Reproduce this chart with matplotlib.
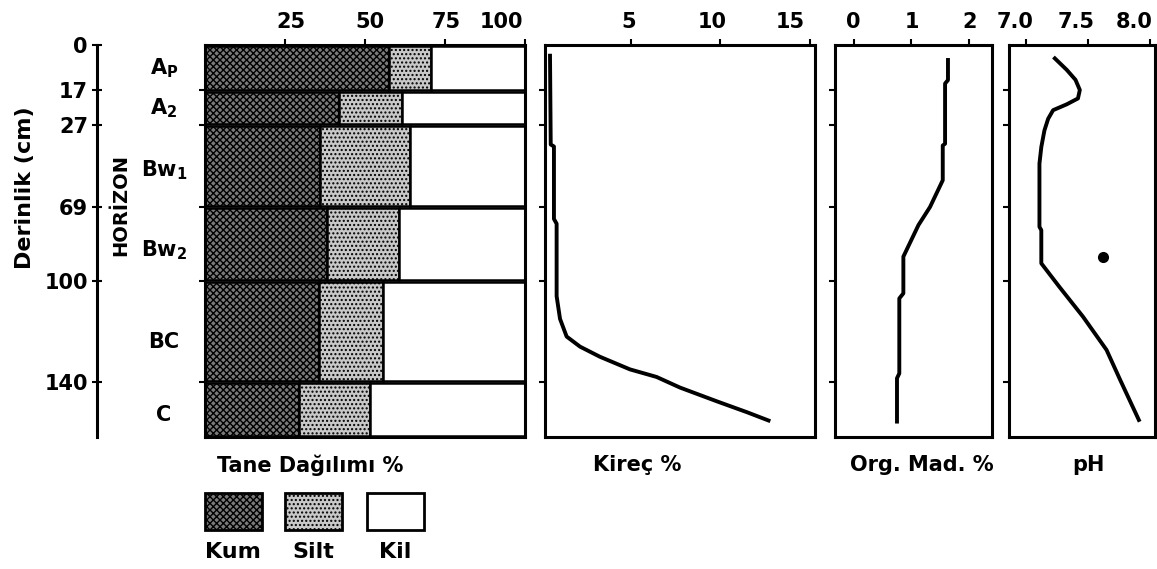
import numpy as np
import matplotlib
matplotlib.use('Agg')
import matplotlib.pyplot as plt
from matplotlib.patches import Rectangle
from matplotlib.transforms import ScaledTranslation

plt.rcParams['font.family'] = ['DejaVu Sans']
plt.rcParams['font.weight'] = 'bold'
plt.rcParams['mathtext.fontset'] = 'dejavusans'
plt.rcParams['mathtext.default'] = 'bf'
plt.rcParams['hatch.linewidth'] = 1.0

# profil verileri
horizons = [r'$A_P$', r'$A_2$', r'$Bw_1$', r'$Bw_2$', 'BC', 'C']
label_depth = [8.5, 22, 50, 87, 124, 152]
top = np.array([0, 17, 27, 69, 100, 140])
bottom = np.array([17, 27, 69, 100, 140, 160])
kum = np.array([57.5, 42, 36, 38, 35.5, 29.5])
silt = np.array([13, 19.5, 28, 22.5, 20, 22])
kil = np.array([29.5, 38.5, 36, 39.5, 44.5, 48.5])
depth_ticks = [0, 17, 27, 69, 100, 140]

kirec_depth = [4, 37, 38, 74, 76, 106, 115, 122, 126, 130, 135, 138, 142, 147, 151, 154]
kirec = [0.48, 0.52, 0.7, 0.7, 0.85, 0.85, 1.04, 1.41, 2.16, 3.27, 4.95, 6.44, 7.74, 9.8, 11.5, 12.7]

om_depth = [5.6, 13.1, 14.4, 36.6, 37.5, 55.3, 69, 76.6, 89.8, 104.9, 106.9, 136.6, 138.5, 154.4]
om = [1.63, 1.63, 1.58, 1.58, 1.54, 1.54, 1.32, 1.12, 0.86, 0.86, 0.79, 0.79, 0.75, 0.75]

ph_depth = [5.0, 9.3, 13.0, 16.8, 19.3, 21.0, 22.7, 25.2, 29.8, 38.3, 46.8, 77.3, 78.7, 92.6,
            102.3, 114.1, 127.3, 139.2, 153.8]
ph = [7.234, 7.33, 7.40, 7.435, 7.42, 7.33, 7.22, 7.18, 7.15, 7.125, 7.11, 7.11, 7.125, 7.125,
      7.27, 7.46, 7.65, 7.76, 7.91]
ph_spot_x = [7.62]
ph_spot_d = [89.8]

# derinlik ekseni cizimde dogrusal degil: horizon sinirlarina gore parca parca olcek
dk = np.array([-100, 0, 17, 27, 69, 100, 140, 160, 400])
yk = np.array([-223, 45, 90.5, 125, 207, 281, 382, 437, 1097])
def fwd(d):
    return np.interp(d, dk, yk)
def inv(y):
    return np.interp(y, yk, dk)

W, H = 1157, 569
fig = plt.figure(figsize=(W / 100, H / 100), dpi=100)

def box(x0, x1, y0=45, y1=437):
    return [x0 / W, 1 - y1 / H, (x1 - x0) / W, (y1 - y0) / H]

lw_frame = 2.2
def style(ax, xt, xl):
    ax.set_yscale('function', functions=(fwd, inv))
    ax.set_ylim(160, 0)
    ax.set_xlim(*xl)
    ax.set_xticks(xt)
    ax.xaxis.tick_top()
    ax.tick_params(axis='x', direction='out', length=4, width=1.5, pad=5, labelsize=15)
    ax.set_yticks(depth_ticks[1:])
    ax.tick_params(axis='y', direction='out', length=4, width=1.5, labelleft=False)
    for s in ax.spines.values():
        s.set_linewidth(lw_frame)

def shift_labels(ax, dxs):
    # ust etiketler orijinalde cizgilerden biraz kaymis
    for t, dx in zip(ax.xaxis.get_major_ticks(), dxs):
        t.label2.set_transform(t.label2.get_transform() +
                               ScaledTranslation(dx / 100, 0, fig.dpi_scale_trans))

# derinlik ekseni
axd = fig.add_axes(box(97, 205))
axd.set_yscale('function', functions=(fwd, inv))
axd.set_ylim(160, 0)
axd.set_xlim(0, 1)
axd.set_xticks([])
axd.set_yticks(depth_ticks)
axd.tick_params(axis='y', direction='inout', length=7, width=1.5, labelsize=15, pad=3)
for k in ['top', 'right', 'bottom']:
    axd.spines[k].set_visible(False)
axd.spines['left'].set_linewidth(lw_frame)
for lab, d in zip(horizons, label_depth):
    axd.text(0.62, d, lab, ha='center', va='center', fontsize=15)
axd.text(0.22, 68, 'HORİZON', rotation=90, ha='center', va='center', fontsize=14)
fig.text(25 / W, 1 - 188 / H, 'Derinlik (cm)', rotation=90, ha='center', va='center', fontsize=16)

# tane dagilimi
ax1 = fig.add_axes(box(205, 525))
style(ax1, [25, 50, 75, 100], (0, 100))
gap = 0.7
mid = (top + bottom) / 2
hgt = bottom - top - gap
ax1.barh(mid, kum, hgt, left=0, color='#7a7a7a', hatch='xxxxx', edgecolor='black', linewidth=1.8)
ax1.barh(mid, silt, hgt, left=kum, color='#c8c8c8', hatch='....', edgecolor='black', linewidth=1.8)
ax1.barh(mid, kil, hgt, left=kum + silt, color='white', edgecolor='black', linewidth=1.8)
shift_labels(ax1, [6, 5, 1, -24])

# kirec
ax2 = fig.add_axes(box(545, 815))
style(ax2, [5, 10, 15], (0.2, 15.3))
ax2.plot(kirec, kirec_depth, color='black', lw=2.8)
shift_labels(ax2, [-2, -8, -19])

# organik madde
ax3 = fig.add_axes(box(835, 992))
style(ax3, [0, 1, 2], (-0.32, 2.39))
ax3.plot(om, om_depth, color='black', lw=2.8)

# pH
ax4 = fig.add_axes(box(1009, 1155))
style(ax4, [7.0, 7.5, 8.0], (6.865, 8.04))
ax4.set_xticklabels(['7.0', '7.5', '8.0'])
ax4.plot(ph, ph_depth, color='black', lw=2.8)
ax4.plot(ph_spot_x, ph_spot_d, 'o', color='black', ms=7)
shift_labels(ax4, [-11, -12, -16])

# eksen basliklari
for txt, x in [('Tane Dağılımı %', 310), ('Kireç %', 637), ('Org. Mad. %', 922), ('pH', 1088)]:
    fig.text(x / W, 1 - 465 / H, txt, ha='center', va='center', fontsize=15)

# lejant
leg = [('Kum', '#7a7a7a', 'xxxxx', 205), ('Silt', '#c8c8c8', '....', 285), ('Kil', 'white', None, 367)]
for name, fc, hp, x0 in leg:
    r = Rectangle((x0 / W, 1 - 530 / H), 57 / W, 37 / H, transform=fig.transFigure,
                  facecolor=fc, hatch=hp, edgecolor='black', linewidth=2)
    fig.add_artist(r)
    fig.text((x0 + 28) / W, 1 - 552 / H, name, ha='center', va='center', fontsize=16)

fig.savefig('out.png', dpi=100)
